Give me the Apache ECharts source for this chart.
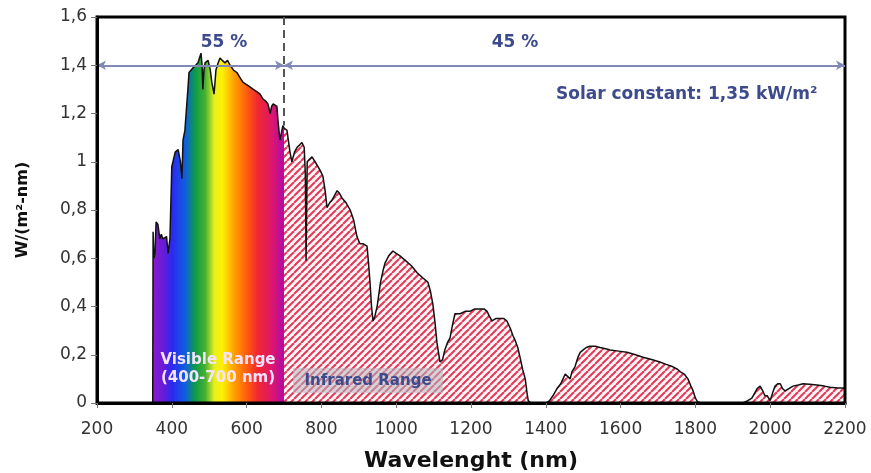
<!DOCTYPE html>
<html>
<head>
<meta charset="utf-8">
<script src="https://cdn.jsdelivr.net/npm/echarts@6/dist/echarts.min.js"></script>
<style>
html,body{margin:0;padding:0;background:#fff;}
#chart{width:871px;height:473px;}
</style>
</head>
<body>
<div id="chart"></div>
<script>
// spectrum (nm, W/(m2 nm))
const wavelength = [200,349,350,352,355,358,363,368,372,376,386,390,395,400,409,417,423,427,430,435,443,446,457,470,478,481,483,486,489,497,503,507,513,518,524,529,535,542,549,556,565,574,582,590,600,609,618,628,636,644,652,657,663,667,671,681,684,689,693,697,700,
  708,716,721,728,735,742,748,754,757,759,762,768,775,783,791,798,804,810,815,822,828,835,842,848,855,866,877,886,895,903,912,922,926,930,934,938,943,949,958,965,970,980,991,1000,1010,1025,1040,1056,1070,1085,1092,1098,1104,1109,1117,1124,1130,1137,1144,1150,1157,1171,1184,1197,1210,1224,1235,1243,1249,1256,1266,1278,1288,1296,1305,1312,1318,1325,1331,1338,1345,1350,1353,1360,
  1401,1410,1419,1430,1440,1446,1452,1457,1465,1470,1478,1486,1492,1500,1508,1518,1532,1545,1560,1572,1595,1617,1640,1660,1683,1705,1722,1740,1752,1759,1770,1780,1788,1794,1800,1806,1815,
  1927,1940,1951,1958,1965,1973,1980,1986,1992,2000,2006,2013,2020,2027,2033,2040,2050,2061,2075,2088,2105,2125,2145,2160,2180,2200]
const irradiance = [0,0,0.71,0.60,0.62,0.75,0.74,0.68,0.70,0.68,0.69,0.62,0.68,0.98,1.04,1.05,1.00,0.93,1.09,1.13,1.30,1.37,1.39,1.41,1.45,1.40,1.30,1.38,1.41,1.42,1.38,1.33,1.28,1.38,1.41,1.43,1.42,1.41,1.42,1.40,1.38,1.37,1.35,1.33,1.32,1.31,1.30,1.29,1.28,1.26,1.25,1.24,1.20,1.23,1.24,1.23,1.17,1.09,1.12,1.15,1.14,
  1.13,1.04,1.00,1.04,1.06,1.07,1.08,1.06,0.95,0.59,1.00,1.01,1.02,1.00,0.98,0.96,0.94,0.88,0.81,0.83,0.84,0.86,0.88,0.87,0.85,0.83,0.80,0.76,0.69,0.66,0.66,0.65,0.58,0.50,0.40,0.34,0.36,0.40,0.50,0.55,0.58,0.61,0.63,0.62,0.61,0.59,0.57,0.54,0.52,0.50,0.46,0.41,0.33,0.25,0.17,0.18,0.22,0.25,0.27,0.32,0.37,0.37,0.38,0.38,0.39,0.39,0.39,0.38,0.36,0.34,0.35,0.35,0.35,0.34,0.31,0.28,0.26,0.23,0.19,0.14,0.10,0.04,0.01,0,
  0,0.01,0.03,0.06,0.08,0.10,0.12,0.12,0.10,0.13,0.15,0.19,0.21,0.22,0.23,0.235,0.235,0.23,0.225,0.22,0.215,0.21,0.20,0.19,0.18,0.17,0.16,0.15,0.14,0.13,0.12,0.10,0.07,0.05,0.02,0.005,0,
  0,0.01,0.02,0.04,0.06,0.07,0.05,0.03,0.03,0.01,0.04,0.07,0.08,0.08,0.06,0.05,0.06,0.07,0.075,0.08,0.078,0.075,0.07,0.065,0.062,0.062]

const visibleFrom = 349
const visibleTo = 700
const solarText = 'Solar constant: 1,35 kW/m²'
const shareVisible = '55 %'
const shareInfrared = '45 %'

let all = wavelength.map((w,i)=>[w, irradiance[i]])
let visible = all.filter(p=>p[0]>=visibleFrom && p[0]<=visibleTo)
let infrared = all.filter(p=>p[0]>=visibleTo)

// hatch for the infrared part
let hatch = document.createElement('canvas')
hatch.width = 7
hatch.height = 7
let ctx = hatch.getContext('2d')
ctx.fillStyle = '#fff6f7'
ctx.fillRect(0,0,7,7)
ctx.strokeStyle = '#e23a57'
ctx.lineWidth = 2
for(let o of [-7,0,7]){
    ctx.beginPath()
    ctx.moveTo(o,7)
    ctx.lineTo(o+7,0)
    ctx.stroke()
}

const font = 'DejaVu Sans'
const navy = '#3d4a8c'

let myChart = echarts.init(document.getElementById('chart'))
let option = {
    backgroundColor:'#fff',
    animation:false,
    grid:{
        left:97, right:26, top:17, bottom:70,
        outerBoundsMode:'none',
        show:true, borderColor:'#000', borderWidth:3, z:5
    },
    xAxis:{
        type:'value', min:200, max:2200, interval:200,
        z:5,
        name:'Wavelenght (nm)', nameLocation:'middle', nameGap:47,
        nameTextStyle:{fontFamily:font, fontWeight:'bold', fontSize:22, color:'#111'},
        axisLine:{show:true, lineStyle:{color:'#000', width:3}},
        axisTick:{show:true, length:5, lineStyle:{color:'#777'}},
        axisLabel:{fontFamily:font, fontSize:17, color:'#333', margin:18, formatter:v=>String(v)},
        splitLine:{show:false}
    },
    yAxis:{
        type:'value', min:0, max:1.6, interval:0.2,
        z:5,
        name:'W/(m²-nm)', nameLocation:'middle', nameGap:66,
        nameTextStyle:{fontFamily:font, fontWeight:'bold', fontSize:16, color:'#111'},
        axisLine:{show:true, lineStyle:{color:'#000', width:3}},
        axisTick:{show:true, length:6, lineStyle:{color:'#777'}},
        axisLabel:{
            fontFamily:font, fontSize:17, color:'#333', margin:10,
            formatter:v=>v==0?'0':String(+v.toFixed(1)).replace('.',',')
        },
        splitLine:{show:false}
    },
    series:[
        {
            name:'visible', type:'line', data:visible,
            showSymbol:false, silent:true, z:2,
            lineStyle:{width:0, opacity:0},
            areaStyle:{
                opacity:1,
                color:new echarts.graphic.LinearGradient(0,0,1,0,[
                    {offset:0, color:'#8a1ccc'},
                    {offset:0.08, color:'#6a1ad8'},
                    {offset:0.15, color:'#2a2af0'},
                    {offset:0.25, color:'#1060e0'},
                    {offset:0.32, color:'#0a9a4a'},
                    {offset:0.40, color:'#46b030'},
                    {offset:0.47, color:'#e8f020'},
                    {offset:0.53, color:'#fff000'},
                    {offset:0.62, color:'#ffa000'},
                    {offset:0.72, color:'#ff5a10'},
                    {offset:0.80, color:'#f02830'},
                    {offset:0.90, color:'#e01868'},
                    {offset:1, color:'#b00aa8'}
                ])
            }
        },
        {
            name:'infrared', type:'line', data:infrared,
            showSymbol:false, silent:true, z:2,
            lineStyle:{width:0, opacity:0},
            areaStyle:{opacity:1, color:{image:hatch, repeat:'repeat'}}
        },
        {
            name:'spectrum', type:'line', data:all,
            showSymbol:false, silent:true, z:3,
            lineStyle:{color:'#111', width:1.5},
            markLine:{
                silent:true,
                symbol:['arrow','arrow'],
                symbolSize:[7,9],
                label:{show:false},
                lineStyle:{color:'#8088b4', width:2, type:'solid'},
                data:[
                    [{coord:[200,1.4]},{coord:[700,1.4]}],
                    [{coord:[700,1.4]},{coord:[2200,1.4]}],
                    [{coord:[700,1.6], symbol:'none'},{coord:[700,1.15], symbol:'none',
                        lineStyle:{color:'#555', width:2, type:[8,5]}}]
                ]
            }
        }
    ],
    graphic:[
        {type:'text', x:224, y:43, z:100, style:{text:shareVisible, fill:navy, font:'bold 17px '+font, align:'center', verticalAlign:'middle'}},
        {type:'text', x:515, y:43, z:100, style:{text:shareInfrared, fill:navy, font:'bold 17px '+font, align:'center', verticalAlign:'middle'}},
        {type:'text', x:556, y:95, z:100, style:{text:solarText, fill:navy, font:'bold 17px '+font, align:'left', verticalAlign:'middle'}},
        {type:'text', x:218, y:369, z:100, style:{text:'Visible Range\n(400-700 nm)', fill:'#f5e2ff', font:'bold 15px '+font, align:'center', verticalAlign:'middle', lineHeight:18}},
        {type:'rect', z:99, shape:{x:293, y:368, width:150, height:25}, style:{fill:'rgba(180,180,192,0.55)'}},
        {type:'text', x:368, y:381, z:100, style:{text:'Infrared Range', fill:navy, font:'bold 15px '+font, align:'center', verticalAlign:'middle'}}
    ]
}
myChart.setOption(option)
</script>
</body>
</html>
